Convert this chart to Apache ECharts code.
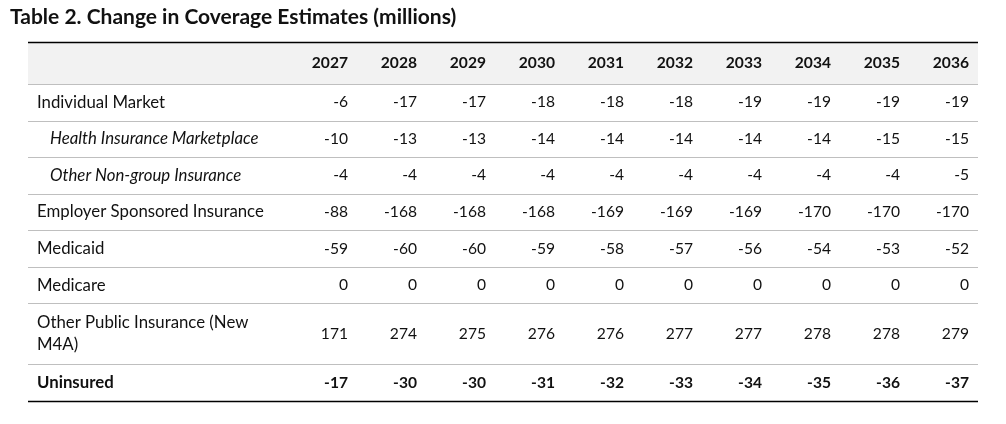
<!DOCTYPE html>
<html>
<head>
<meta charset="utf-8">
<script src="https://cdn.jsdelivr.net/npm/echarts@6/dist/echarts.min.js"></script>
<style>
html,body{margin:0;padding:0;background:#fff;}
#chart{width:1006px;height:424px;}
</style>
</head>
<body>
<div id="chart"></div>
<script>
// ---- data ----
const title = 'Table 2. Change in Coverage Estimates (millions)';
const years = ['2027','2028','2029','2030','2031','2032','2033','2034','2035','2036'];
const rowLabels = [
  'Individual Market',
  'Health Insurance Marketplace',
  'Other Non-group Insurance',
  'Employer Sponsored Insurance',
  'Medicaid',
  'Medicare',
  'Other Public Insurance (New\nM4A)',
  'Uninsured'
];
const individualMarket = [-6,-17,-17,-18,-18,-18,-19,-19,-19,-19];
const marketplace      = [-10,-13,-13,-14,-14,-14,-14,-14,-15,-15];
const otherNonGroup    = [-4,-4,-4,-4,-4,-4,-4,-4,-4,-5];
const employer         = [-88,-168,-168,-168,-169,-169,-169,-170,-170,-170];
const medicaid         = [-59,-60,-60,-59,-58,-57,-56,-54,-53,-52];
const medicare         = [0,0,0,0,0,0,0,0,0,0];
const otherPublic      = [171,274,275,276,276,277,277,278,278,279];
const uninsured        = [-17,-30,-30,-31,-32,-33,-34,-35,-36,-37];
const rowValues = [individualMarket, marketplace, otherNonGroup, employer, medicaid, medicare, otherPublic, uninsured];

// ---- layout / style (not data) ----
const rowItalic = [false,true,true,false,false,false,false,false];
const rowBold   = [false,false,false,false,false,false,false,true];
const labelColUnits = 260/69;        // label column width in year-column units
const headerUnits = 42/36.6;
const rowUnits = rowLabels.map(l => l.includes('\n') ? 61/36.6 : 1);
const FONT = 'Lato, "Open Sans", sans-serif';
const FS_LABEL = 16.8;
const FS_NUM = 15.6;

const totalX = labelColUnits + years.length;
const rowTops = [];
let acc = headerUnits;
rowUnits.forEach(u => { rowTops.push(acc); acc += u; });
const totalY = acc;

// cell data: [x, yCenter, text, kind, rowIndex]
const cells = [];
years.forEach((y, i) => cells.push([labelColUnits + i + 1, headerUnits/2, y, 'head', -1]));
rowLabels.forEach((lab, r) => {
  const yc = rowTops[r] + rowUnits[r]/2;
  cells.push([0, yc, lab, 'label', r]);
  rowValues[r].forEach((v, i) => cells.push([labelColUnits + i + 1, yc, String(v), 'num', r]));
});

// separators
const lines = [];
lines.push([0, 'top']);
rowTops.forEach((t) => lines.push([t, 'sep']));
lines.push([totalY, 'bottom']);

const chart = echarts.init(document.getElementById('chart'), null, {renderer:'canvas'});
chart.setOption({
  animation: false,
  title: {
    text: title, left: 10, top: 7, padding: 0,
    textStyle: {fontFamily: FONT, fontSize: 21, fontWeight: 'bold', color: '#111'}
  },
  grid: {left: 28, right: 28, top: 42, bottom: 23, containLabel: false},
  xAxis: {type: 'value', min: 0, max: totalX, show: false},
  yAxis: {type: 'value', min: 0, max: totalY, inverse: true, show: false},
  series: [
    {
      type: 'custom',
      z: 1,
      data: [[0, headerUnits]],
      renderItem: function (params, api) {
        const p0 = api.coord([0, 0]);
        const p1 = api.coord([totalX, api.value(1)]);
        return {type: 'rect', shape: {x: p0[0], y: p0[1], width: p1[0]-p0[0], height: p1[1]-p0[1]},
                style: {fill: '#f2f2f2'}};
      }
    },
    {
      type: 'custom',
      z: 2,
      data: lines,
      renderItem: function (params, api) {
        const kind = lines[params.dataIndex][1];
        const a = api.coord([0, api.value(0)]);
        const b = api.coord([totalX, api.value(0)]);
        const isDark = kind !== 'sep';
        return {type: 'line', shape: {x1: a[0], y1: Math.round(a[1]) + 0.5, x2: b[0], y2: Math.round(b[1]) + 0.5},
                style: {stroke: isDark ? '#000' : '#bfbfbf', lineWidth: isDark ? 1.5 : 1}};
      }
    },
    {
      type: 'custom',
      z: 3,
      data: cells,
      renderItem: function (params, api) {
        const c = cells[params.dataIndex];
        const kind = c[3], r = c[4];
        const p = api.coord([api.value(0), api.value(1)]);
        let x, align, weight = 'normal', style = 'normal', fs = FS_NUM;
        if (kind === 'label') {
          x = p[0] + (rowItalic[r] ? 22 : 9);
          align = 'left';
          fs = FS_LABEL;
        } else {
          x = p[0] - 9;
          align = 'right';
        }
        if (kind === 'head' || (r >= 0 && rowBold[r])) weight = 'bold';
        if (kind === 'label' && rowItalic[r]) style = 'italic';
        return {type: 'text', x: x, y: p[1],
                style: {text: c[2], align: align, verticalAlign: 'middle',
                        font: style + ' ' + weight + ' ' + fs + 'px ' + FONT,
                        fill: '#111', lineHeight: 22}};
      }
    }
  ]
});
</script>
</body>
</html>
